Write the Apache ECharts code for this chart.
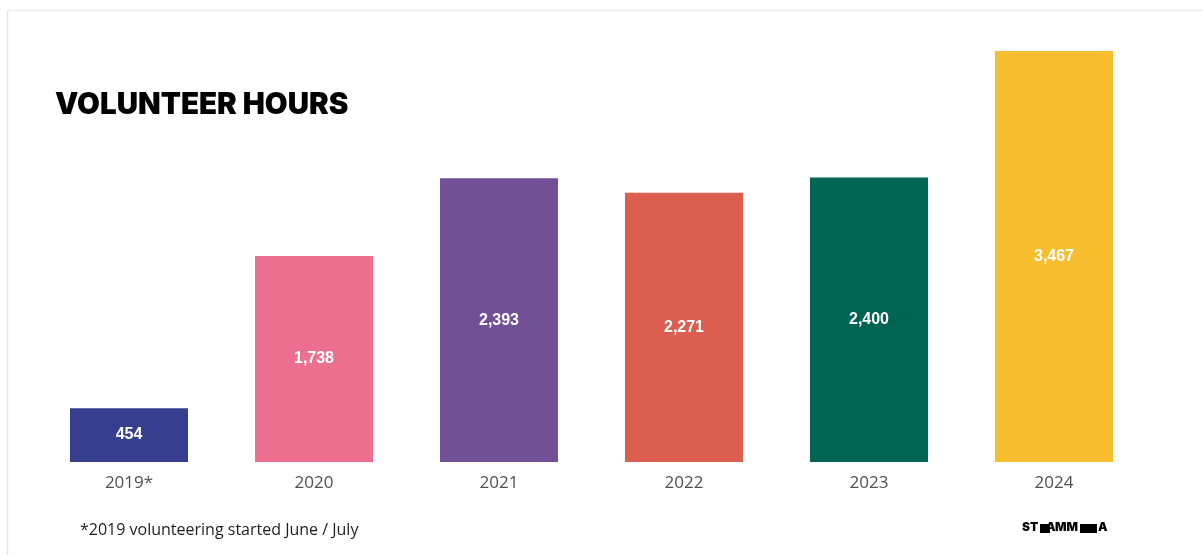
<!DOCTYPE html>
<html>
<head>
<meta charset="utf-8">
<script src="https://cdn.jsdelivr.net/npm/echarts@6/dist/echarts.min.js"></script>
<style>
html,body{margin:0;padding:0;background:#fff;}
#chart{width:1203px;height:555px;}
</style>
</head>
<body>
<div id="chart"></div>
<script>
var categories = ['2019*', '2020', '2021', '2022', '2023', '2024'];
var hours = [454, 1738, 2393, 2271, 2400, 3467];
var barColors = ['#363f8e', '#ec6f90', '#725097', '#dc5e50', '#006453', '#f6bd2f'];

var chart = echarts.init(document.getElementById('chart'), null, {renderer: 'canvas'});
chart.setOption({
  backgroundColor: '#ffffff',
  animation: false,
  grid: {left: 36.5, right: 56.5, top: 47, bottom: 93},
  xAxis: {
    type: 'category',
    data: categories,
    axisLine: {show: false},
    axisTick: {show: false},
    axisLabel: {color: '#505050', fontSize: 17, fontFamily: 'Open Sans, Liberation Sans, sans-serif', margin: 13,
      letterSpacing: 1}
  },
  yAxis: {
    type: 'value',
    min: 0,
    max: 3500,
    show: false,
    splitLine: {show: false}
  },
  series: [{
    type: 'bar',
    barWidth: 118,
    data: hours.map(function (v, i) { return {value: v, itemStyle: {color: barColors[i]}}; }),
    label: {
      show: true,
      position: 'inside',
      color: '#ffffff',
      fontSize: 16,
      fontWeight: 600,
      fontFamily: 'Liberation Sans, Arial, sans-serif',
      formatter: function (p) { return p.value.toLocaleString('en-US'); }
    }
  }],
  graphic: [
    {type: 'line', shape: {x1: 7.5, y1: 10, x2: 7.5, y2: 555}, style: {stroke: '#e6e6e6', lineWidth: 1.5}, silent: true},
    {type: 'line', shape: {x1: 7, y1: 10.5, x2: 1203, y2: 10.5}, style: {stroke: '#eeeeee', lineWidth: 1.5}, silent: true},
    {type: 'text', left: 55, top: 90, style: {text: 'VOLUNTEER HOURS', fill: '#000000', font: '900 29.5px Inter, sans-serif'}},
    {type: 'text', left: 80, top: 522, style: {text: '*2019 volunteering started June / July', fill: '#1e1e1e', font: '16px Open Sans, sans-serif'}},
    {type: 'group', left: 1022, top: 521, children: [
      {type: 'text', x: 0, y: 0, style: {text: 'ST', fill: '#000', font: '900 12px Inter, sans-serif'}},
      {type: 'rect', shape: {x: 18, y: 3, width: 10, height: 9}, style: {fill: '#000'}},
      {type: 'text', x: 24, y: 0, style: {text: 'A', fill: '#000', font: '900 12px Inter, sans-serif'}},
      {type: 'text', x: 33, y: 0, style: {text: 'MM', fill: '#000', font: '900 12px Inter, sans-serif'}},
      {type: 'rect', shape: {x: 58, y: 3, width: 17, height: 9}, style: {fill: '#000'}},
      {type: 'text', x: 76, y: 0, style: {text: 'A', fill: '#000', font: '900 12px Inter, sans-serif'}}
    ]}
  ]
});
</script>
</body>
</html>
